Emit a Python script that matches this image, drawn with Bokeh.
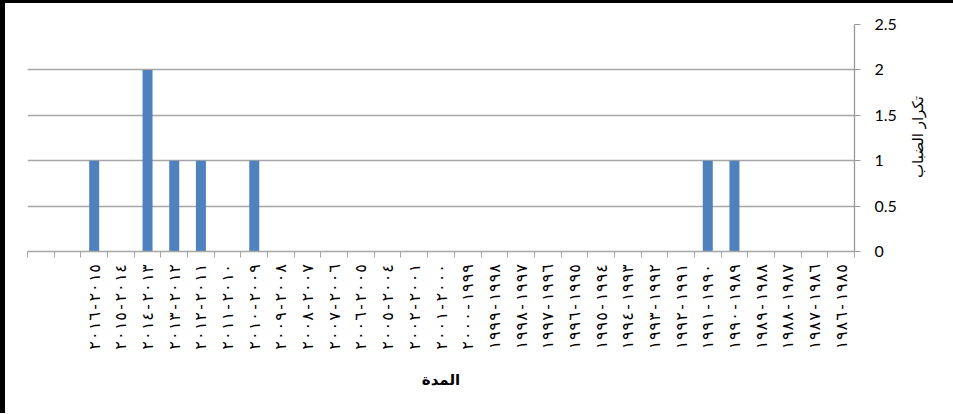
import math

from bokeh.embed import file_html
from bokeh.layouts import column, row
from bokeh.models import ColumnDataSource, FixedTicker, Label, Range1d, Spacer
from bokeh.plotting import figure
from bokeh.resources import INLINE

# Seasons (newest first, written "from-to"); the first two slots carry no label
periods = [
    "", "",
    "٢٠١٥-٢٠١٦", "٢٠١٤-٢٠١٥", "٢٠١٣-٢٠١٤", "٢٠١٢-٢٠١٣", "٢٠١١-٢٠١٢",
    "٢٠١٠-٢٠١١", "٢٠٠٩-٢٠١٠", "٢٠٠٨-٢٠٠٩", "٢٠٠٧-٢٠٠٨", "٢٠٠٦-٢٠٠٧",
    "٢٠٠٥-٢٠٠٦", "٢٠٠٤-٢٠٠٥", "٢٠٠١-٢٠٠٢", "٢٠٠٠-٢٠٠١", "١٩٩٩-٢٠٠٠",
    "١٩٩٨-١٩٩٩", "١٩٩٧-١٩٩٨", "١٩٩٦-١٩٩٧", "١٩٩٥-١٩٩٦", "١٩٩٤-١٩٩٥",
    "١٩٩٣-١٩٩٤", "١٩٩٢-١٩٩٣", "١٩٩١-١٩٩٢", "١٩٩٠-١٩٩١", "١٩٨٩-١٩٩٠",
    "١٩٨٨-١٩٨٩", "١٩٨٧-١٩٨٨", "١٩٨٦-١٩٨٧", "١٩٨٥-١٩٨٦",
]

# Fog occurrences per season
fog_counts = [
    0, 0,
    1, 0, 2, 1, 1,
    0, 1, 0, 0, 0,
    0, 0, 0, 0, 0,
    0, 0, 0, 0, 0,
    0, 0, 0, 1, 1,
    0, 0, 0, 0,
]

y_ticks = [0, 0.5, 1, 1.5, 2, 2.5]
y_tick_labels = ["0", "0.5", "1", "1.5", "2", "2.5"]

x_title = "المدة"
y_title = "تكرار الضباب"

n = len(periods)
centers = [i + 0.5 for i in range(n)]
bounds = [float(i) for i in range(n + 1)]

source = ColumnDataSource(dict(x=centers, count=fog_counts, period=periods))

GRID = "#a6a6a6"
ARABIC_FONT = "DejaVu Sans"
BORDER_TOP, BORDER_BOTTOM = 21, 162
BLACK = {"background-color": "#000000"}
WHITE = {"background-color": "#ffffff"}

p = figure(
    width=900, height=410,
    x_range=Range1d(0, n), y_range=Range1d(0, 2.5),
    y_axis_location="right",
    output_backend="svg", toolbar_location=None,
    min_border_left=22, min_border_top=BORDER_TOP,
    min_border_right=51, min_border_bottom=BORDER_BOTTOM,
    margin=0,
)
p.outline_line_color = None
p.background_fill_color = "white"
p.border_fill_color = "white"

p.vbar(x="x", top="count", width=0.375, source=source,
       fill_color="#4f81bd", line_color=None)

# horizontal grid
p.xgrid.visible = False
p.ygrid.ticker = FixedTicker(ticks=y_ticks)
p.ygrid.grid_line_color = GRID
p.ygrid.grid_line_width = 1.3

# category axis: tick marks between seasons, labels at their centres
xa = p.xaxis[0]
xa.ticker = FixedTicker(ticks=centers, minor_ticks=bounds)
xa.major_label_overrides = {c: lab for c, lab in zip(centers, periods)}
xa.major_tick_line_color = None
xa.major_tick_out = 6
xa.major_tick_in = 0
xa.minor_tick_line_color = GRID
xa.minor_tick_out = 6
xa.minor_tick_in = 0
xa.axis_line_color = GRID
xa.axis_line_width = 1.3
xa.major_label_orientation = math.pi / 2
xa.major_label_standoff = 6
xa.major_label_text_font = "DejaVu Sans Mono"
xa.major_label_text_font_size = "16px"
xa.major_label_text_color = "#000000"
xa.axis_label = x_title
xa.axis_label_text_font = ARABIC_FONT
xa.axis_label_text_font_style = "bold"
xa.axis_label_text_font_size = "15px"
xa.axis_label_text_color = "#000000"
xa.axis_label_standoff = 18

# value axis on the right
ya = p.yaxis[0]
ya.ticker = FixedTicker(ticks=y_ticks)
ya.major_label_overrides = {t: s for t, s in zip(y_ticks, y_tick_labels)}
ya.minor_tick_line_color = None
ya.major_tick_line_color = "#999999"
ya.major_tick_in = 0
ya.major_tick_out = 6
ya.axis_line_color = "#999999"
ya.axis_line_width = 1.3
ya.major_label_standoff = 14
ya.major_label_text_font = "Lato"
ya.major_label_text_font_size = "16px"
ya.major_label_text_color = "#000000"

# narrow strip beside the value axis carrying its title, reading upward
side = figure(
    width=48, height=410,
    x_range=Range1d(0, 1), y_range=Range1d(0, 2.5),
    x_axis_type=None, y_axis_type=None,
    output_backend="svg", toolbar_location=None,
    min_border_left=0, min_border_right=0,
    min_border_top=BORDER_TOP, min_border_bottom=BORDER_BOTTOM,
    margin=0,
)
side.outline_line_color = None
side.grid.visible = False
side.background_fill_color = "white"
side.border_fill_color = "white"
side.add_layout(Label(
    x=0.25, y=1.26, text=y_title, angle=math.pi / 2,
    text_align="center", text_baseline="middle",
    text_font=ARABIC_FONT, text_font_size="15px", text_color="#000000",
))

# black frame on the top and left edges: gaps that let the black
# container background show through
charts = row(p, side, spacing=0, margin=0, styles=WHITE)
inner = column(
    Spacer(width=948, height=3, margin=0, styles=BLACK),
    charts,
    spacing=0, margin=0, styles=BLACK,
)
page = row(
    Spacer(width=5, height=413, margin=0, styles=BLACK),
    inner,
    spacing=0, margin=0, styles=BLACK,
)

open("out.html", "w").write(file_html(page, INLINE))
